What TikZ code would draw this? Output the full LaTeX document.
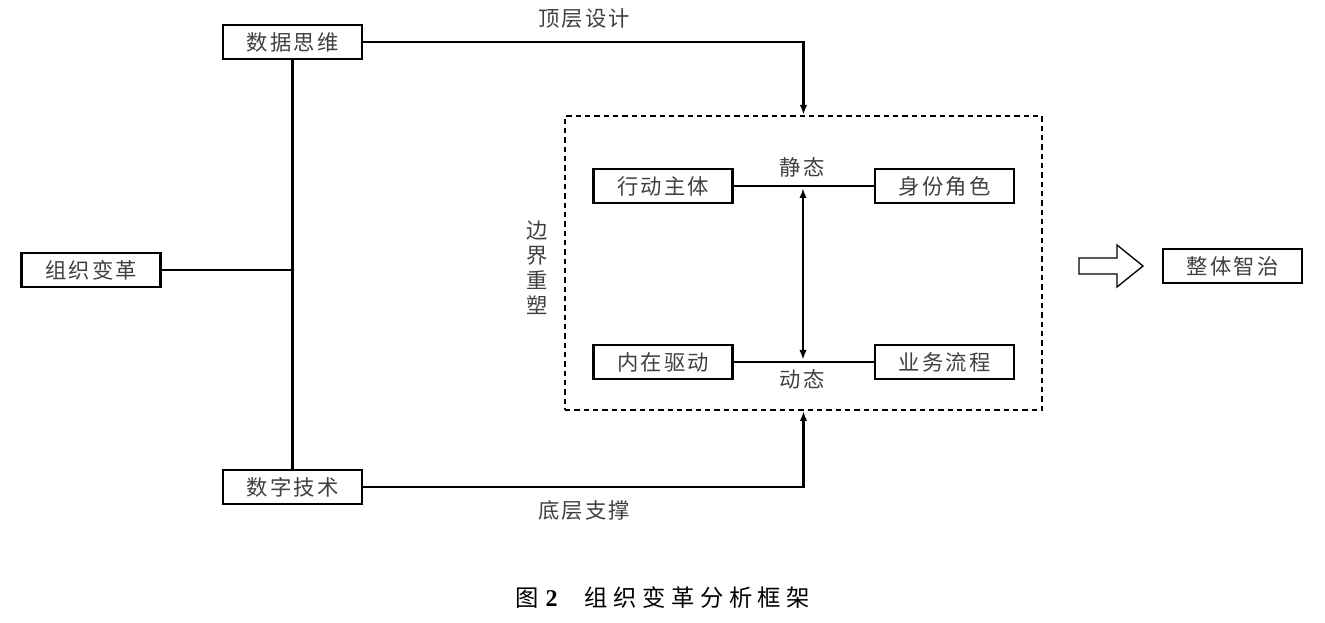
\documentclass[tikz,border=0pt]{standalone}
\usepackage{fontspec}
\newfontfamily\cjk[LetterSpace=10]{Noto Sans CJK SC}
\newfontfamily\capfont[LetterSpace=24]{Noto Sans CJK SC}
\newfontfamily\numfont{Liberation Serif}
\usetikzlibrary{arrows.meta}
\begin{document}
\begin{tikzpicture}[x=0.75pt,y=-0.75pt,
  box/.style={draw,line width=1.9pt,minimum width=104pt,minimum height=25.5pt,inner sep=0pt,
    font=\cjk\fontsize{16}{16}\selectfont,text=black!75},
  ln/.style={line width=1.7pt},
  tip/.style={-{Latex[length=7.5pt,width=5.5pt]}},
  lbl/.style={inner sep=0pt,font=\cjk\fontsize{16}{18.75}\selectfont,text=black!75}]
\useasboundingbox (0,0) rectangle (1325,623);
% boxes
\node[box] (sjsw) at (292.5,42) {数据思维};
\node[box] (zzbg) at (91,270) {组织变革};
\node[box] (szjs) at (292.5,487) {数字技术};
\node[box] (xdzt) at (663,186) {行动主体};
\node[box] (sfjs) at (944.5,186) {身份角色};
\node[box] (nzqd) at (663,362) {内在驱动};
\node[box] (ywlc) at (944.5,362) {业务流程};
\node[box] (ztzz) at (1232.5,266) {整体智治};
\node[draw,line width=1.5pt,dash pattern=on 4pt off 3pt,minimum width=357.75pt,minimum height=220.5pt,inner sep=0pt] (frame) at (803.5,263) {};
% connectors
\draw[ln] (sjsw.south) -- (szjs.north);
\draw[ln] (zzbg.east) -- (zzbg.east -| sjsw.south);
\draw[ln,tip] (sjsw.east) -| (frame.north);
\draw[ln,tip] (szjs.east) -| (frame.south);
\draw[ln] (xdzt.east) -- (sfjs.west);
\draw[ln] (nzqd.east) -- (ywlc.west);
\coordinate (s1) at (803,188);
\coordinate (s2) at (803,360);
\draw[ln,{Latex[length=7.5pt,width=5.5pt]}-{Latex[length=7.5pt,width=5.5pt]}] (s1) -- (s2);
% labels
\node[lbl] (top) at (584,19) {顶层设计};
\node[lbl] (bot) at (584,510) {底层支撑};
\node[lbl] (jt) at (802,167) {静态};
\node[lbl] (dt) at (802,379) {动态};
\node[lbl,align=center] (bj) at (537,268) {边\\界\\重\\塑};
% hollow arrow
\draw[line width=1pt] (1079,258) -- (1117,258) -- (1117,245) -- (1143,266) -- (1117,287) -- (1117,274) -- (1079,274) -- cycle;
% caption
\node[inner sep=0pt,font=\capfont\fontsize{17.5}{17.5}\selectfont] (cap) at (663,598)
  {图\hspace{5pt}{\numfont\bfseries\fontsize{18}{18}\selectfont 2}\hspace{20pt}组织变革分析框架};
\end{tikzpicture}
\end{document}
